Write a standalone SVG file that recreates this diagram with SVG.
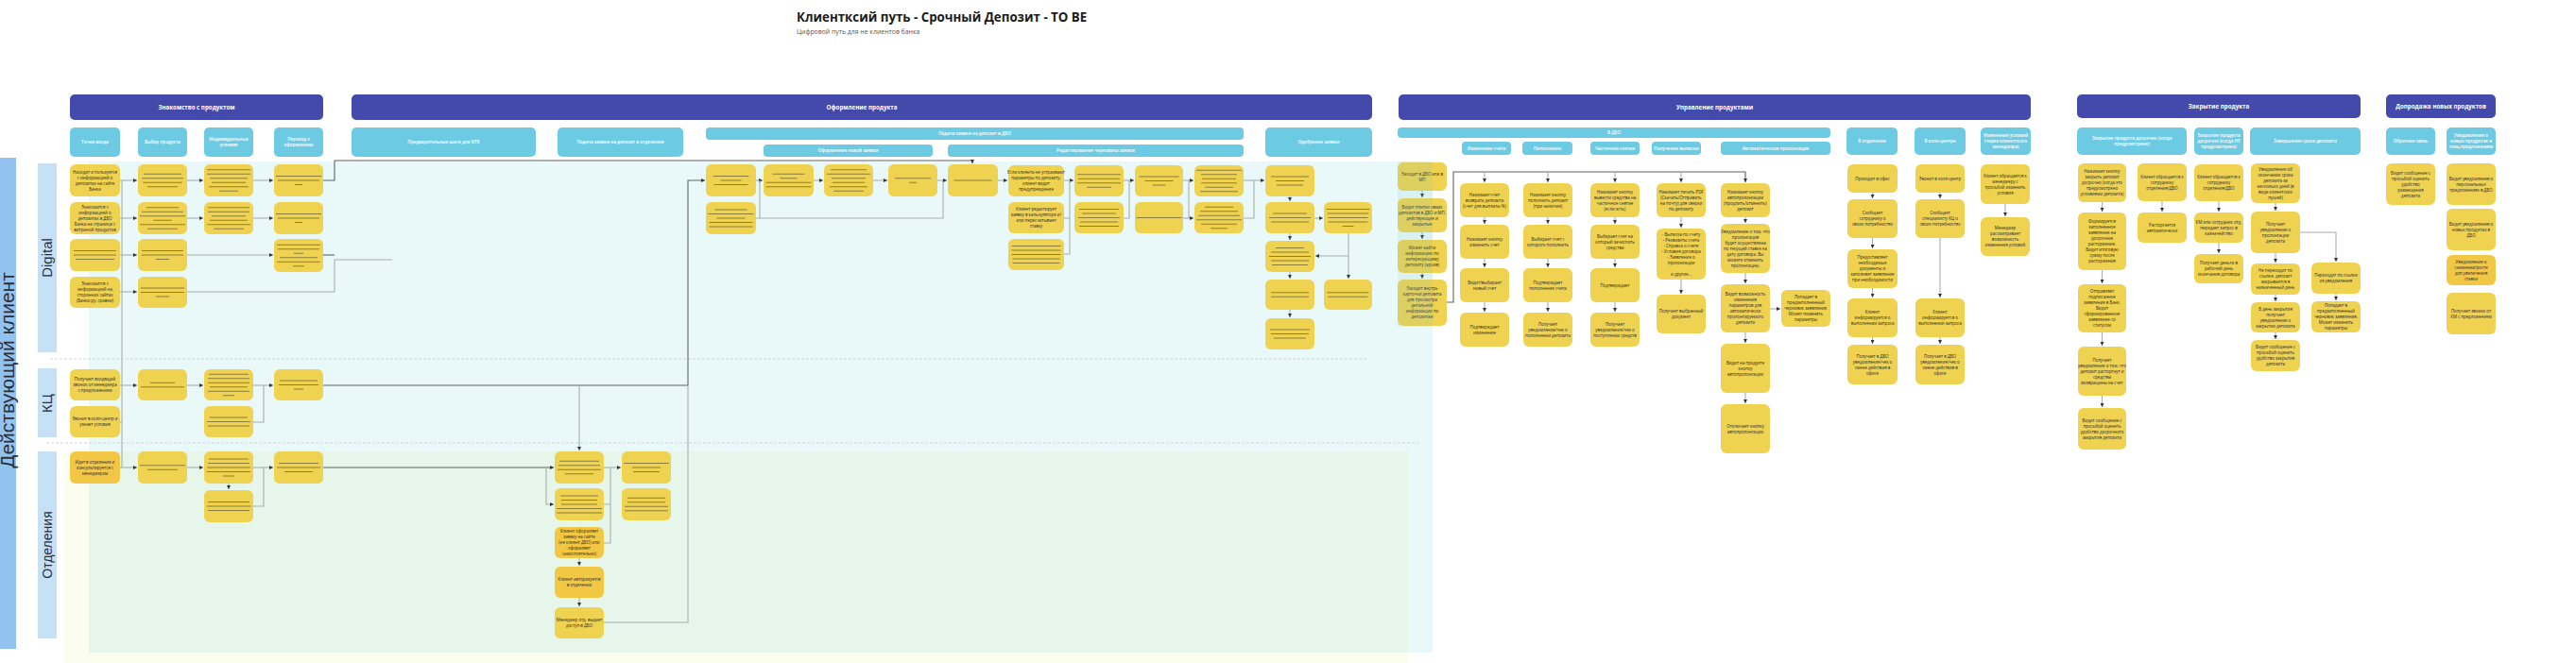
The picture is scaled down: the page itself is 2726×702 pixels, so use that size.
<svg xmlns="http://www.w3.org/2000/svg" width="2726" height="702" viewBox="0 0 2726 702">
<defs>
<style>
.n{fill:#efd24f}
.o{fill:#f2c744}
.hd{fill:#434aab}
.sh{fill:#6ccbe3}
.nt{font-family:"Open Sans","Liberation Sans",sans-serif;font-size:4.4px;fill:#2b2b2b;text-anchor:middle}
.ht{font-family:"Open Sans","Liberation Sans",sans-serif;font-size:6.2px;font-weight:700;fill:#fff;text-anchor:middle}
.st{font-family:"Open Sans","Liberation Sans",sans-serif;font-size:4.6px;font-weight:600;fill:#fff;text-anchor:middle}
.ln{font-family:"Liberation Sans",sans-serif;fill:#2a2f36;text-anchor:middle}
.ph{fill:none;stroke:#8b7d3a;stroke-width:1.1}
.dk{stroke:#5f6563}
.dl{fill:none;stroke:#cfd6d6;stroke-width:1;stroke-dasharray:3 2}
</style>
<marker id="a" viewBox="0 0 4 4" refX="4" refY="2" markerWidth="4" markerHeight="4" markerUnits="userSpaceOnUse" orient="auto"><path d="M0,0L4,2L0,4z" fill="#333"/></marker>
</defs>
<rect width="2726" height="702" fill="#fff"/>

<!-- backgrounds -->
<g id="background">
<rect x="68" y="478" width="1422" height="224" fill="#fbfdee"/>
<rect x="94" y="171" width="1422" height="520" fill="#e9f8f8"/>
<rect x="94" y="478" width="1396" height="213" fill="#e7f6ea"/>
<path class="dl" d="M53,380H1446M49,469H1503"/>
</g>

<!-- title -->
<g id="title">
<text x="843" y="23" font-family="'Open Sans','Liberation Sans',sans-serif" font-size="13.3" font-weight="700" fill="#1a1a1a">Клиентксий путь - Срочный Депозит - TO BE</text>
<text x="843" y="36" font-family="'Open Sans','Liberation Sans',sans-serif" font-size="6.9" fill="#555">Цифровой путь для не клиентов банка</text>
</g>

<!-- lanes -->
<g id="lanes">
<rect x="0" y="167" width="17" height="520" fill="#92c2f0"/>
<text class="ln" font-size="21" transform="translate(15,392) rotate(-90)">Действующий клиент</text>
<rect x="40" y="173" width="20" height="200" fill="#c6e0f6"/>
<text class="ln" font-size="15" transform="translate(55,273) rotate(-90)">Digital</text>
<rect x="40" y="390" width="20" height="73" fill="#c6e0f6"/>
<text class="ln" font-size="15" transform="translate(55,427) rotate(-90)">КЦ</text>
<rect x="40" y="478" width="20" height="198" fill="#c6e0f6"/>
<text class="ln" font-size="14" transform="translate(55,577) rotate(-90)">Отделения</text>
</g>

<!-- stage headers -->
<g id="headers">
<g id="h-znak"><rect class="hd" x="74" y="100" width="268" height="27" rx="5"/><text class="ht" x="208" y="115.7">Знакомство с продуктом</text></g>
<g id="h-oform"><rect class="hd" x="372" y="100" width="1080" height="27" rx="5"/><text class="ht" x="912" y="115.7">Оформление продукта</text></g>
<g id="h-upr"><rect class="hd" x="1480" y="100" width="669" height="27" rx="5"/><text class="ht" x="1814.5" y="115.7">Управление продуктами</text></g>
<g id="h-close"><rect class="hd" x="2198" y="100" width="300" height="25" rx="5"/><text class="ht" x="2348" y="114.7">Закрытие продукта</text></g>
<g id="h-upsell"><rect class="hd" x="2525" y="100" width="116" height="25" rx="5"/><text class="ht" x="2583" y="114.7">Допродажа новых продуктов</text></g>

<g id="s1"><rect class="sh" x="74" y="135" width="53" height="31" rx="5"/><text class="st" x="100.5" y="152.2">Точки входа</text></g>
<g id="s2"><rect class="sh" x="146" y="135" width="52" height="31" rx="5"/><text class="st" x="172" y="152.2">Выбор продукта</text></g>
<g id="s3"><rect class="sh" x="216" y="135" width="52" height="31" rx="5"/><text class="st" x="242" y="149.4">Индивидуальные<tspan x="242" dy="6">условия</tspan></text></g>
<g id="s4"><rect class="sh" x="290" y="135" width="52" height="31" rx="5"/><text class="st" x="316" y="149.4">Переход к<tspan x="316" dy="6">оформлению</tspan></text></g>
<g id="s5"><rect class="sh" x="372" y="135" width="195" height="31" rx="5"/><text class="st" x="469.5" y="152.2">Предварительные шаги для NTB</text></g>
<g id="s6"><rect class="sh" x="590" y="135" width="133" height="31" rx="5"/><text class="st" x="656.5" y="152.2">Подача заявки на депозит в отделении</text></g>
<g id="s7"><rect class="sh" x="747" y="135" width="569" height="13" rx="4"/><text class="st" x="1031.5" y="143.2">Подача заявки на депозит в ДБО</text></g>
<g id="s7a"><rect class="sh" x="808" y="153" width="179" height="13" rx="4"/><text class="st" x="897.5" y="161.2">Оформление новой заявки</text></g>
<g id="s7b"><rect class="sh" x="1003" y="153" width="313" height="13" rx="4"/><text class="st" x="1159.5" y="161.2">Редактирование черновика заявки</text></g>
<g id="s8"><rect class="sh" x="1339" y="135" width="113" height="31" rx="5"/><text class="st" x="1395.5" y="152.2">Одобрение заявки</text></g>
<g id="s9"><rect class="sh" x="1479" y="135" width="458" height="11" rx="4"/><text class="st" x="1708" y="142.2">В ДБО</text></g>
<g id="s9a"><rect class="sh" x="1547" y="150" width="52" height="14" rx="4"/><text class="st" x="1573" y="158.7">Изменение счета</text></g>
<g id="s9b"><rect class="sh" x="1611" y="150" width="53" height="14" rx="4"/><text class="st" x="1637.5" y="158.7">Пополнение</text></g>
<g id="s9c"><rect class="sh" x="1683" y="150" width="52" height="14" rx="4"/><text class="st" x="1709" y="158.7">Частичное снятие</text></g>
<g id="s9d"><rect class="sh" x="1748" y="150" width="52" height="14" rx="4"/><text class="st" x="1774" y="158.7">Получение выписки</text></g>
<g id="s9e"><rect class="sh" x="1821" y="150" width="116" height="14" rx="4"/><text class="st" x="1879" y="158.7">Автоматическая пролонгация</text></g>
<g id="s10"><rect class="sh" x="1954" y="135" width="54" height="29" rx="5"/><text class="st" x="1981" y="151.2">В отделении</text></g>
<g id="s11"><rect class="sh" x="2026" y="135" width="54" height="29" rx="5"/><text class="st" x="2053" y="151.2">В колл-центре</text></g>
<g id="s12"><rect class="sh" x="2096" y="135" width="53" height="29" rx="5"/><text class="st" x="2122.5" y="145.4">Изменение условий<tspan x="2122.5" dy="6">(через клиентского</tspan><tspan x="2122.5" dy="6">менеджера)</tspan></text></g>
<g id="s13"><rect class="sh" x="2198" y="135" width="116" height="29" rx="5"/><text class="st" x="2256" y="148.4">Закрытие продукта досрочно (когда<tspan x="2256" dy="6">предусмотрено)</tspan></text></g>
<g id="s14"><rect class="sh" x="2322" y="135" width="52" height="29" rx="5"/><text class="st" x="2348" y="145.4">Закрытие продукта<tspan x="2348" dy="6">досрочно (когда НЕ</tspan><tspan x="2348" dy="6">предусмотрено)</tspan></text></g>
<g id="s15"><rect class="sh" x="2381" y="135" width="117" height="29" rx="5"/><text class="st" x="2439.5" y="151.2">Завершение срока депозита</text></g>
<g id="s16"><rect class="sh" x="2525" y="135" width="52" height="29" rx="5"/><text class="st" x="2551" y="151.2">Обратная связь</text></g>
<g id="s17"><rect class="sh" x="2589" y="135" width="52" height="29" rx="5"/><text class="st" x="2615" y="145.4">Уведомление о<tspan x="2615" dy="6">новых продуктах и</tspan><tspan x="2615" dy="6">спец.предложениях</tspan></text></g>
</g>

<!-- connectors -->
<g id="connectors" fill="none" stroke="#a6b0ae" stroke-width="1.1">
<path d="M129,191V495"/>
<path d="M127,191H145" marker-end="url(#a)"/>
<path d="M127,231H145" marker-end="url(#a)"/>
<path d="M127,270H145" marker-end="url(#a)"/>
<path d="M127,309H145" marker-end="url(#a)"/>
<path d="M127,408H145" marker-end="url(#a)"/>
<path d="M127,447H129"/>
<path d="M127,495H145" marker-end="url(#a)"/>
<path d="M198,191H215" marker-end="url(#a)"/>
<path d="M198,231H215" marker-end="url(#a)"/>
<path d="M198,270H289" marker-end="url(#a)"/>
<path d="M268,191H289" marker-end="url(#a)"/>
<path d="M268,231H289" marker-end="url(#a)"/>
<path class="dk" d="M342,270H354"/>
<path class="dk" d="M342,191H354V170H1029V173" marker-end="url(#a)"/>
<path d="M198,309H354V275H415"/>
<path d="M198,408H215" marker-end="url(#a)"/>
<path d="M268,408H289" marker-end="url(#a)"/>
<path d="M268,447H279V408"/>
<path class="dk" d="M342,408H728V191H746" marker-end="url(#a)"/>
<path d="M613,408V477" marker-end="url(#a)"/>
<path d="M198,495H215" marker-end="url(#a)"/>
<path d="M242,512V518" marker-end="url(#a)"/>
<path d="M268,495H289" marker-end="url(#a)"/>
<path d="M268,536H279V495"/>
<path class="dk" d="M342,495H586" marker-end="url(#a)"/>
<path d="M578,495V534H586" marker-end="url(#a)"/>
<path d="M639,495H657" marker-end="url(#a)"/>
<path d="M639,534H646V495"/>
<path d="M639,575H646V534"/>
<path d="M613,591V599" marker-end="url(#a)"/>
<path d="M613,633V642" marker-end="url(#a)"/>
<path d="M639,659H728V408"/>
<path d="M799,191H807" marker-end="url(#a)"/>
<path d="M799,231H804V191"/>
<path d="M804,231H998V191"/>
<path d="M861,191H871" marker-end="url(#a)"/>
<path d="M924,191H939" marker-end="url(#a)"/>
<path d="M992,191H1002" marker-end="url(#a)"/>
<path d="M1056,191H1066" marker-end="url(#a)"/>
<path d="M1126,191H1136" marker-end="url(#a)"/>
<path d="M1126,231H1132"/>
<path d="M1126,269H1132V191"/>
<path d="M1189,191H1200" marker-end="url(#a)"/>
<path d="M1189,231H1195V191"/>
<path d="M1252,191H1263" marker-end="url(#a)"/>
<path d="M1252,231H1263" marker-end="url(#a)"/>
<path d="M1258,191V231"/>
<path d="M1316,191H1338" marker-end="url(#a)"/>
<path d="M1316,231H1327V191"/>
<path d="M1365,208V213" marker-end="url(#a)"/>
<path d="M1365,247V254" marker-end="url(#a)"/>
<path d="M1365,288V295" marker-end="url(#a)"/>
<path d="M1365,328V336" marker-end="url(#a)"/>
<path d="M1391,231H1400" marker-end="url(#a)"/>
<path d="M1427,247V295" marker-end="url(#a)"/>
<path d="M1427,271H1392" marker-end="url(#a)"/>
<path d="M1505,202V209" marker-end="url(#a)"/>
<path d="M1505,246V253" marker-end="url(#a)"/>
<path d="M1505,289V295" marker-end="url(#a)"/>
<path class="dk" d="M1531,320H1538V182H1847V193" marker-end="url(#a)"/>
<path d="M1571,182V193" marker-end="url(#a)"/>
<path d="M1638,182V193" marker-end="url(#a)"/>
<path d="M1709,182V193" marker-end="url(#a)"/>
<path d="M1779,182V193" marker-end="url(#a)"/>
<path d="M1571,230V237" marker-end="url(#a)"/>
<path d="M1571,274V283" marker-end="url(#a)"/>
<path d="M1571,320V330" marker-end="url(#a)"/>
<path d="M1638,230V237" marker-end="url(#a)"/>
<path d="M1638,274V283" marker-end="url(#a)"/>
<path d="M1638,320V330" marker-end="url(#a)"/>
<path d="M1709,230V237" marker-end="url(#a)"/>
<path d="M1709,274V283" marker-end="url(#a)"/>
<path d="M1709,320V330" marker-end="url(#a)"/>
<path d="M1779,230V241" marker-end="url(#a)"/>
<path d="M1779,296V311" marker-end="url(#a)"/>
<path d="M1847,230V236" marker-end="url(#a)"/>
<path d="M1847,289V300" marker-end="url(#a)"/>
<path d="M1847,352V363" marker-end="url(#a)"/>
<path d="M1847,416V427" marker-end="url(#a)"/>
<path d="M1873,327H1884" marker-end="url(#a)"/>
<path d="M1981.5,204V210" marker-end="url(#a)"/>
<path d="M1981.5,252V263" marker-end="url(#a)"/>
<path d="M1981.5,305V315" marker-end="url(#a)"/>
<path d="M1981.5,357V364" marker-end="url(#a)"/>
<path d="M2053,204V210" marker-end="url(#a)"/>
<path d="M2053,252V315" marker-end="url(#a)"/>
<path d="M2053,357V364" marker-end="url(#a)"/>
<path d="M2122,216V229" marker-end="url(#a)"/>
<path d="M2224.5,214V224" marker-end="url(#a)"/>
<path d="M2224.5,286V300" marker-end="url(#a)"/>
<path d="M2224.5,352V366" marker-end="url(#a)"/>
<path d="M2224.5,419V431" marker-end="url(#a)"/>
<path d="M2288,213V224" marker-end="url(#a)"/>
<path d="M2348,213V224" marker-end="url(#a)"/>
<path d="M2348,257V268" marker-end="url(#a)"/>
<path d="M2408,215V223" marker-end="url(#a)"/>
<path d="M2408,268V278" marker-end="url(#a)"/>
<path d="M2408,312V319" marker-end="url(#a)"/>
<path d="M2408,352V359" marker-end="url(#a)"/>
<path d="M2434,246H2472V277" marker-end="url(#a)"/>
<path d="M2472,311V318" marker-end="url(#a)"/>
</g>

<!-- Знакомство с продуктом: Digital -->
<g id="d1-1"><rect class="n" x="74" y="174" width="53" height="34" rx="6"/><text class="nt" x="100.5" y="183.6">Находит и пользуется<tspan x="100.5" dy="6">с информацией о</tspan><tspan x="100.5" dy="6">депозитах на сайте</tspan><tspan x="100.5" dy="6">Банка</tspan></text></g>
<g id="d1-2"><rect class="n" x="74" y="214" width="53" height="34" rx="6"/><text class="nt" x="100.5" y="220.6">Знакомится с<tspan x="100.5" dy="6">информацией о</tspan><tspan x="100.5" dy="6">депозитах в ДБО</tspan><tspan x="100.5" dy="6">Банка на странице с</tspan><tspan x="100.5" dy="6">витриной продуктов</tspan></text></g>
<g id="d1-3"><rect class="n" x="74" y="253" width="53" height="34" rx="6"/><path class="ph" d="M78,265.5h45M78,270h45M80,274.5h41"/></g>
<g id="d1-4"><rect class="n" x="74" y="293" width="53" height="33" rx="6"/><text class="nt" x="100.5" y="302.1">Знакомится с<tspan x="100.5" dy="6">информацией на</tspan><tspan x="100.5" dy="6">сторонних сайтах</tspan><tspan x="100.5" dy="6">(Банки.ру, сравни)</tspan></text></g>
<g id="d2-1"><rect class="n" x="146" y="174" width="52" height="34" rx="6"/><path class="ph" d="M152,184.25h40M150,188.75h44M151,193.25h42M156,197.75h32"/></g>
<g id="d2-2"><rect class="n" x="146" y="214" width="52" height="34" rx="6"/><path class="ph" d="M155,219.75h34M150,224.25h44M148,228.75h48M162,233.25h20M148,237.75h48M156,242.25h32"/></g>
<g id="d2-3"><rect class="n" x="146" y="253" width="52" height="34" rx="6"/><path class="ph" d="M150,265.5h44M150,270h44M165,274.5h14"/></g>
<g id="d2-4"><rect class="n" x="146" y="293" width="52" height="33" rx="6"/><path class="ph" d="M149,305h46M149,309.5h46M165,314h14"/></g>
<g id="d3-1"><rect class="n" x="216" y="174" width="52" height="34" rx="6"/><path class="ph" d="M219,179.75h46M219,184.25h46M222,188.75h40M224,193.25h36M221,197.75h42M232,202.25h20"/></g>
<g id="d3-2"><rect class="n" x="216" y="214" width="52" height="34" rx="6"/><path class="ph" d="M220,219.75h44M220,224.25h44M224,228.75h36M222,233.25h40M219,237.75h46M226,242.25h32"/></g>
<g id="d4-1"><rect class="n" x="290" y="174" width="52" height="34" rx="6"/><path class="ph" d="M292,186.5h48M294,191h44M312,195.5h8"/></g>
<g id="d4-2"><rect class="n" x="290" y="214" width="52" height="34" rx="6"/><path class="ph" d="M292,226.5h48M294,231h44M312,235.5h8"/></g>
<g id="d4-3"><rect class="n" x="290" y="253" width="52" height="35" rx="6"/><path class="ph" d="M293,259.25h46M294,263.75h44M311,268.25h10M296,272.75h40M293,277.25h46M310,281.75h12"/></g>

<!-- КЦ -->
<g id="k1-1"><rect class="n" x="74" y="391" width="53" height="33" rx="6"/><text class="nt" x="100.5" y="403.1">Получает входящий<tspan x="100.5" dy="6">звонок от менеджера</tspan><tspan x="100.5" dy="6">с предложением</tspan></text></g>
<g id="k1-2"><rect class="n" x="74" y="430" width="53" height="33" rx="6"/><text class="nt" x="100.5" y="445.1">Звонит в колл-центр и<tspan x="100.5" dy="6">узнает условия</tspan></text></g>
<g id="k2-1"><rect class="n" x="146" y="391" width="52" height="33" rx="6"/><path class="ph" d="M159,405.25h26M149,409.75h46"/></g>
<g id="k3-1"><rect class="n" x="216" y="391" width="52" height="33" rx="6"/><path class="ph" d="M221,396.25h42M220,400.75h44M220,405.25h44M222,409.75h40M220,414.25h44M236,418.75h12"/></g>
<g id="k3-2"><rect class="n" x="216" y="430" width="52" height="33" rx="6"/><path class="ph" d="M222,442h40M219,446.5h46M220,451h44"/></g>
<g id="k4-1"><rect class="n" x="290" y="391" width="52" height="33" rx="6"/><path class="ph" d="M296,403h40M295,407.5h42M311,412h10"/></g>

<!-- Отделения -->
<g id="o1-1"><rect class="o" x="74" y="478" width="53" height="34" rx="6"/><text class="nt" x="100.5" y="490.6">Идет в отделение и<tspan x="100.5" dy="6">консультируется с</tspan><tspan x="100.5" dy="6">менеджером</tspan></text></g>
<g id="o2-1"><rect class="n" x="146" y="478" width="52" height="34" rx="6"/><path class="ph" d="M148,492.75h48M156,497.25h32"/></g>
<g id="o3-1"><rect class="n" x="216" y="478" width="52" height="34" rx="6"/><path class="ph" d="M221,486h42M220,490.5h44M219,495h46M219,499.5h46M236,504h12"/></g>
<g id="o3-2"><rect class="n" x="216" y="519" width="52" height="34" rx="6"/><path class="ph" d="M220,531.5h44M219,536h46M220,540.5h44"/></g>
<g id="o4-1"><rect class="n" x="290" y="478" width="52" height="34" rx="6"/><path class="ph" d="M295,490.5h42M293,495h46M301,499.5h30"/></g>

<!-- Подача заявки в отделении -->
<g id="ot-1"><rect class="n" x="587" y="478" width="52" height="34" rx="6"/><path class="ph" d="M592,488.25h42M591,492.75h44M590,497.25h46M598,501.75h30"/></g>
<g id="ot-2"><rect class="n" x="587" y="517" width="52" height="34" rx="6"/><path class="ph" d="M593,525h40M594,529.5h38M594,534h38M589,538.5h48M589,543h48"/></g>
<g id="ot-3"><rect class="o" x="587" y="558" width="52" height="33" rx="6"/><text class="nt" x="613" y="564.1">Клиент оформляет<tspan x="613" dy="6">заявку на сайте</tspan><tspan x="613" dy="6">(не клиент ДБО) или</tspan><tspan x="613" dy="6">оформляет</tspan><tspan x="613" dy="6">самостоятельно)</tspan></text></g>
<g id="ot-4"><rect class="o" x="587" y="600" width="52" height="33" rx="6"/><text class="nt" x="613" y="615.1">Клиент авторизуется<tspan x="613" dy="6">в отделении</tspan></text></g>
<g id="ot-5"><rect class="n" x="587" y="643" width="52" height="33" rx="6"/><text class="nt" x="613" y="658.1">Менеджер отд. выдает<tspan x="613" dy="6">доступ в ДБО</tspan></text></g>
<g id="ot-6"><rect class="n" x="658" y="478" width="52" height="34" rx="6"/><path class="ph" d="M660,490.5h48M669,495h30M670,499.5h28"/></g>
<g id="ot-7"><rect class="n" x="658" y="517" width="52" height="34" rx="6"/><path class="ph" d="M664,527.25h40M664,531.75h40M661,536.25h46M661,540.75h46"/></g>

<!-- Подача заявки в ДБО -->
<g id="db-1"><rect class="n" x="747" y="174" width="53" height="34" rx="6"/><path class="ph" d="M754.5,186.5h38M762.5,191h22M755.5,195.5h36"/></g>
<g id="db-2"><rect class="n" x="747" y="214" width="53" height="34" rx="6"/><path class="ph" d="M756.5,222h34M749.5,226.5h48M758.5,231h30M750.5,235.5h46M750.5,240h46"/></g>
<g id="db-3"><rect class="n" x="808" y="174" width="53" height="34" rx="6"/><path class="ph" d="M817.5,184.25h34M825.5,188.75h18M810.5,193.25h48M810.5,197.75h48"/></g>
<g id="db-4"><rect class="n" x="872" y="174" width="52" height="34" rx="6"/><path class="ph" d="M879,179.75h38M875,184.25h46M880,188.75h36M881,193.25h34M878,197.75h40M882,202.25h32"/></g>
<g id="db-5"><rect class="n" x="940" y="174" width="52" height="34" rx="6"/><path class="ph" d="M947,188.75h38M962,193.25h8"/></g>
<g id="db-6"><rect class="n" x="1003" y="174" width="53" height="34" rx="6"/><path class="ph" d="M1009.5,191h40"/></g>
<g id="db-7"><rect class="n" x="1067" y="175" width="59" height="33" rx="6"/><text class="nt" x="1096.5" y="184.1">Если клиента не устраивают<tspan x="1096.5" dy="6">параметры по депозиту,</tspan><tspan x="1096.5" dy="6">клиент видит</tspan><tspan x="1096.5" dy="6">предупреждение</tspan></text></g>
<g id="db-8"><rect class="n" x="1067" y="214" width="59" height="33" rx="6"/><text class="nt" x="1096.5" y="223.1">Клиент редактирует<tspan x="1096.5" dy="6">заявку в калькуляторе и/</tspan><tspan x="1096.5" dy="6">или пересчитывает</tspan><tspan x="1096.5" dy="6">ставку</tspan></text></g>
<g id="db-9"><rect class="n" x="1067" y="253" width="59" height="33" rx="6"/><path class="ph" d="M1070.5,260.5h52M1070.5,265h52M1070.5,269.5h52M1071.5,274h50M1071.5,278.5h50"/></g>
<g id="db-10"><rect class="n" x="1137" y="175" width="52" height="33" rx="6"/><path class="ph" d="M1140,184.75h46M1141,189.25h44M1140,193.75h46M1150,198.25h26"/></g>
<g id="db-11"><rect class="n" x="1137" y="214" width="52" height="33" rx="6"/><path class="ph" d="M1142,221.5h42M1145,226h36M1141,230.5h44M1143,235h40M1142,239.5h42"/></g>
<g id="db-12"><rect class="n" x="1201" y="175" width="51" height="33" rx="6"/><path class="ph" d="M1205.5,187h42M1211.5,191.5h30M1219.5,196h14"/></g>
<g id="db-13"><rect class="n" x="1201" y="214" width="51" height="33" rx="6"/><path class="ph" d="M1202.5,230.5h48"/></g>
<g id="db-14"><rect class="n" x="1264" y="175" width="52" height="33" rx="6"/><path class="ph" d="M1266,180.25h48M1271,184.75h38M1272,189.25h36M1271,193.75h38M1275,198.25h30M1270,202.75h40"/></g>
<g id="db-15"><rect class="n" x="1264" y="214" width="52" height="33" rx="6"/><path class="ph" d="M1275,219.25h30M1270,223.75h40M1268,228.25h44M1266,232.75h48M1271,237.25h38M1281,241.75h18"/></g>

<!-- Одобрение заявки -->
<g id="ap-1"><rect class="n" x="1339" y="175" width="52" height="33" rx="6"/><path class="ph" d="M1345,187h40M1350,191.5h30M1351,196h28"/></g>
<g id="ap-2"><rect class="n" x="1339" y="214" width="52" height="33" rx="6"/><path class="ph" d="M1347,226h36M1343,230.5h44M1345,235h40"/></g>
<g id="ap-3"><rect class="n" x="1339" y="255" width="52" height="33" rx="6"/><path class="ph" d="M1350,262.5h30M1345,267h40M1343,271.5h44M1345,276h40M1346,280.5h38"/></g>
<g id="ap-4"><rect class="n" x="1339" y="296" width="52" height="32" rx="6"/><path class="ph" d="M1345,309.75h40M1345,314.25h40"/></g>
<g id="ap-5"><rect class="n" x="1339" y="337" width="52" height="33" rx="6"/><path class="ph" d="M1344,349h42M1345,353.5h40M1348,358h34"/></g>
<g id="ap-6"><rect class="n" x="1401" y="214" width="51" height="33" rx="6"/><path class="ph" d="M1403.5,221.5h46M1404.5,226h44M1405.5,230.5h42M1405.5,235h42M1420.5,239.5h12"/></g>
<g id="ap-7"><rect class="n" x="1401" y="296" width="51" height="32" rx="6"/><path class="ph" d="M1404.5,309.75h44M1405.5,314.25h42"/></g>

<!-- Управление продуктами -->
<g id="u-1"><rect class="n" x="1479" y="172" width="52" height="30" rx="6"/><text class="nt" x="1505" y="185.6">Заходит в ДБО или в<tspan x="1505" dy="6">МП</tspan></text></g>
<g id="u-2"><rect class="n" x="1479" y="210" width="52" height="36" rx="6"/><text class="nt" x="1505" y="220.6">Видит плитки своих<tspan x="1505" dy="6">депозитов в ДБО и МП,</tspan><tspan x="1505" dy="6">действующие и</tspan><tspan x="1505" dy="6">закрытые</tspan></text></g>
<g id="u-3"><rect class="n" x="1479" y="254" width="52" height="35" rx="6"/><text class="nt" x="1505" y="264.1">Может найти<tspan x="1505" dy="6">информацию по</tspan><tspan x="1505" dy="6">интересующему</tspan><tspan x="1505" dy="6">депозиту (архив)</tspan></text></g>
<g id="u-4"><rect class="n" x="1479" y="296" width="52" height="49" rx="6"/><text class="nt" x="1505" y="307.1">Заходит внутрь<tspan x="1505" dy="6">карточки депозита</tspan><tspan x="1505" dy="6">для просмотра</tspan><tspan x="1505" dy="6">детальной</tspan><tspan x="1505" dy="6">информации по</tspan><tspan x="1505" dy="6">депозитам</tspan></text></g>
<rect x="1479" y="171" width="37" height="175" fill="#7fc8c0" opacity="0.15"/>

<g id="k-1"><rect class="n" x="1545" y="194" width="52" height="36" rx="6"/><text class="nt" x="1571" y="207.6">Нажимает счет<tspan x="1571" dy="6">возврата депозита</tspan><tspan x="1571" dy="6">(счет для выплаты %)</tspan></text></g>
<g id="k-2"><rect class="n" x="1545" y="238" width="52" height="36" rx="6"/><text class="nt" x="1571" y="254.6">Нажимает кнопку<tspan x="1571" dy="6">изменить счет</tspan></text></g>
<g id="k-3"><rect class="n" x="1545" y="284" width="52" height="36" rx="6"/><text class="nt" x="1571" y="300.6">Видит/выбирает<tspan x="1571" dy="6">новый счет</tspan></text></g>
<g id="k-4"><rect class="n" x="1545" y="331" width="52" height="36" rx="6"/><text class="nt" x="1571" y="347.6">Подтверждает<tspan x="1571" dy="6">изменение</tspan></text></g>

<g id="l-1"><rect class="n" x="1612" y="194" width="52" height="36" rx="6"/><text class="nt" x="1638" y="207.6">Нажимает кнопку<tspan x="1638" dy="6">пополнить депозит</tspan><tspan x="1638" dy="6">(при наличии)</tspan></text></g>
<g id="l-2"><rect class="n" x="1612" y="238" width="52" height="36" rx="6"/><text class="nt" x="1638" y="254.6">Выбирает счет с<tspan x="1638" dy="6">которого пополнить</tspan></text></g>
<g id="l-3"><rect class="n" x="1612" y="284" width="52" height="36" rx="6"/><text class="nt" x="1638" y="300.6">Подтверждает<tspan x="1638" dy="6">пополнение счета</tspan></text></g>
<g id="l-4"><rect class="n" x="1612" y="331" width="52" height="36" rx="6"/><text class="nt" x="1638" y="344.6">Получает<tspan x="1638" dy="6">уведомление/чек о</tspan><tspan x="1638" dy="6">пополнении депозита</tspan></text></g>

<g id="m-1"><rect class="n" x="1683" y="194" width="52" height="36" rx="6"/><text class="nt" x="1709" y="204.6">Нажимает кнопку<tspan x="1709" dy="6">вывести средства на</tspan><tspan x="1709" dy="6">частичное снятие</tspan><tspan x="1709" dy="6">(если есть)</tspan></text></g>
<g id="m-2"><rect class="n" x="1683" y="238" width="52" height="36" rx="6"/><text class="nt" x="1709" y="251.6">Выбирает счет на<tspan x="1709" dy="6">который зачислить</tspan><tspan x="1709" dy="6">средства</tspan></text></g>
<g id="m-3"><rect class="n" x="1683" y="284" width="52" height="36" rx="6"/><text class="nt" x="1709" y="303.6">Подтверждает</text></g>
<g id="m-4"><rect class="n" x="1683" y="331" width="52" height="36" rx="6"/><text class="nt" x="1709" y="344.6">Получает<tspan x="1709" dy="6">уведомление/чек о</tspan><tspan x="1709" dy="6">поступлении средств</tspan></text></g>

<g id="v-1"><rect class="n" x="1753" y="194" width="52" height="36" rx="6"/><text class="nt" x="1779" y="204.6">Нажимает печать PDF<tspan x="1779" dy="6">(Скачать/Отправить</tspan><tspan x="1779" dy="6">на почту) для сверки</tspan><tspan x="1779" dy="6">по депозиту</tspan></text></g>
<g id="v-2"><rect class="n" x="1753" y="242" width="52" height="54" rx="6"/><text class="nt" x="1779" y="249.6">- Выписка по счету<tspan x="1779" dy="6">- Реквизиты счета</tspan><tspan x="1779" dy="6">- Справка о счете</tspan><tspan x="1779" dy="6">- Условия договора</tspan><tspan x="1779" dy="6">- Заявление о</tspan><tspan x="1779" dy="6">пролонгации</tspan><tspan x="1779" dy="12">и другие...</tspan></text></g>
<g id="v-3"><rect class="n" x="1753" y="312" width="52" height="41" rx="6"/><text class="nt" x="1779" y="331.1">Получает выбранный<tspan x="1779" dy="6">документ</tspan></text></g>

<g id="p-1"><rect class="n" x="1821" y="194" width="52" height="36" rx="6"/><text class="nt" x="1847" y="204.6">Нажимает кнопку<tspan x="1847" dy="6">автопролонгации</tspan><tspan x="1847" dy="6">(продлить/отменить)</tspan><tspan x="1847" dy="6">депозит</tspan></text></g>
<g id="p-2"><rect class="n" x="1821" y="237" width="52" height="52" rx="6"/><text class="nt" x="1847" y="246.6">Уведомление о том, что<tspan x="1847" dy="6">пролонгация</tspan><tspan x="1847" dy="6">будет осуществлена</tspan><tspan x="1847" dy="6">по текущей ставке на</tspan><tspan x="1847" dy="6">дату договора. Вы</tspan><tspan x="1847" dy="6">можете отменить</tspan><tspan x="1847" dy="6">пролонгацию.</tspan></text></g>
<g id="p-3"><rect class="n" x="1821" y="301" width="52" height="51" rx="6"/><text class="nt" x="1847" y="313.1">Видит возможность<tspan x="1847" dy="6">изменения</tspan><tspan x="1847" dy="6">параметров для</tspan><tspan x="1847" dy="6">автоматически</tspan><tspan x="1847" dy="6">пролонгируемого</tspan><tspan x="1847" dy="6">депозита</tspan></text></g>
<g id="p-4"><rect class="n" x="1821" y="364" width="52" height="52" rx="6"/><text class="nt" x="1847" y="385.6">Видит на продукте<tspan x="1847" dy="6">кнопку</tspan><tspan x="1847" dy="6">автопролонгации</tspan></text></g>
<g id="p-5"><rect class="n" x="1821" y="428" width="52" height="52" rx="6"/><text class="nt" x="1847" y="452.6">Отключает кнопку<tspan x="1847" dy="6">автопролонгации</tspan></text></g>
<g id="p-6"><rect class="n" x="1885" y="307" width="52" height="39" rx="6"/><text class="nt" x="1911" y="316.1">Попадает в<tspan x="1911" dy="6">предзаполненный</tspan><tspan x="1911" dy="6">черновик заявления.</tspan><tspan x="1911" dy="6">Может поменять</tspan><tspan x="1911" dy="6">параметры</tspan></text></g>

<g id="r-1"><rect class="n" x="1955" y="174" width="53" height="30" rx="6"/><text class="nt" x="1981.5" y="190.6">Приходит в офис</text></g>
<g id="r-2"><rect class="n" x="1955" y="211" width="53" height="41" rx="6"/><text class="nt" x="1981.5" y="227.1">Сообщает<tspan x="1981.5" dy="6">сотруднику о</tspan><tspan x="1981.5" dy="6">своих потребностях</tspan></text></g>
<g id="r-3"><rect class="n" x="1955" y="264" width="53" height="41" rx="6"/><text class="nt" x="1981.5" y="274.1">Предоставляет<tspan x="1981.5" dy="6">необходимые</tspan><tspan x="1981.5" dy="6">документы и</tspan><tspan x="1981.5" dy="6">заполняет заявление</tspan><tspan x="1981.5" dy="6">при необходимости</tspan></text></g>
<g id="r-4"><rect class="n" x="1955" y="316" width="53" height="41" rx="6"/><text class="nt" x="1981.5" y="332.1">Клиент<tspan x="1981.5" dy="6">информируется о</tspan><tspan x="1981.5" dy="6">выполнении запроса</tspan></text></g>
<g id="r-5"><rect class="n" x="1955" y="365" width="53" height="42" rx="6"/><text class="nt" x="1981.5" y="378.6">Получает в ДБО<tspan x="1981.5" dy="6">уведомление/чек о</tspan><tspan x="1981.5" dy="6">смене действия в</tspan><tspan x="1981.5" dy="6">офисе</tspan></text></g>

<g id="c-1"><rect class="n" x="2027" y="174" width="52" height="30" rx="6"/><text class="nt" x="2053" y="190.6">Звонит в колл-центр</text></g>
<g id="c-2"><rect class="n" x="2027" y="211" width="52" height="41" rx="6"/><text class="nt" x="2053" y="227.1">Сообщает<tspan x="2053" dy="6">специалисту КЦ о</tspan><tspan x="2053" dy="6">своих потребностях</tspan></text></g>
<g id="c-3"><rect class="n" x="2027" y="316" width="52" height="41" rx="6"/><text class="nt" x="2053" y="332.1">Клиент<tspan x="2053" dy="6">информируется о</tspan><tspan x="2053" dy="6">выполнении запроса</tspan></text></g>
<g id="c-4"><rect class="n" x="2027" y="365" width="52" height="42" rx="6"/><text class="nt" x="2053" y="378.6">Получает в ДБО<tspan x="2053" dy="6">уведомление/чек о</tspan><tspan x="2053" dy="6">смене действия в</tspan><tspan x="2053" dy="6">офисе</tspan></text></g>

<g id="t-1"><rect class="n" x="2096" y="174" width="52" height="42" rx="6"/><text class="nt" x="2122" y="187.6">Клиент обращается к<tspan x="2122" dy="6">менеджеру с</tspan><tspan x="2122" dy="6">просьбой изменить</tspan><tspan x="2122" dy="6">условия</tspan></text></g>
<g id="t-2"><rect class="n" x="2096" y="230" width="52" height="41" rx="6"/><text class="nt" x="2122" y="243.1">Менеджер<tspan x="2122" dy="6">рассматривает</tspan><tspan x="2122" dy="6">возможность</tspan><tspan x="2122" dy="6">изменения условий</tspan></text></g>

<!-- Закрытие продукта -->
<g id="z-1"><rect class="n" x="2199" y="173" width="51" height="41" rx="6"/><text class="nt" x="2224.5" y="183.1">Нажимает кнопку<tspan x="2224.5" dy="6">закрыть депозит</tspan><tspan x="2224.5" dy="6">досрочно (когда это</tspan><tspan x="2224.5" dy="6">предусмотрено</tspan><tspan x="2224.5" dy="6">условиями депозита)</tspan></text></g>
<g id="z-2"><rect class="n" x="2199" y="225" width="51" height="61" rx="6"/><text class="nt" x="2224.5" y="236.1">Формируется<tspan x="2224.5" dy="6">заполненное</tspan><tspan x="2224.5" dy="6">заявление на</tspan><tspan x="2224.5" dy="6">досрочное</tspan><tspan x="2224.5" dy="6">расторжение.</tspan><tspan x="2224.5" dy="6">Видит итоговую</tspan><tspan x="2224.5" dy="6">сумму после</tspan><tspan x="2224.5" dy="6">расторжения</tspan></text></g>
<g id="z-3"><rect class="n" x="2199" y="301" width="51" height="51" rx="6"/><text class="nt" x="2224.5" y="310.1">Отправляет<tspan x="2224.5" dy="6">подписанное</tspan><tspan x="2224.5" dy="6">заявление в Банк.</tspan><tspan x="2224.5" dy="6">Видит</tspan><tspan x="2224.5" dy="6">сформированное</tspan><tspan x="2224.5" dy="6">заявление со</tspan><tspan x="2224.5" dy="6">статусом</tspan></text></g>
<g id="z-4"><rect class="n" x="2199" y="367" width="51" height="52" rx="6"/><text class="nt" x="2224.5" y="382.6">Получает<tspan x="2224.5" dy="6">уведомление о том, что</tspan><tspan x="2224.5" dy="6">депозит расторгнут и</tspan><tspan x="2224.5" dy="6">средства</tspan><tspan x="2224.5" dy="6">возвращены на счет</tspan></text></g>
<g id="z-5"><rect class="n" x="2199" y="432" width="51" height="44" rx="6"/><text class="nt" x="2224.5" y="446.6">Видит сообщение с<tspan x="2224.5" dy="6">просьбой оценить</tspan><tspan x="2224.5" dy="6">удобство досрочного</tspan><tspan x="2224.5" dy="6">закрытия депозита</tspan></text></g>

<g id="zv-1"><rect class="n" x="2262" y="173" width="52" height="40" rx="6"/><text class="nt" x="2288" y="188.6">Клиент обращается к<tspan x="2288" dy="6">сотруднику</tspan><tspan x="2288" dy="6">отделения/ДБО</tspan></text></g>
<g id="zv-2"><rect class="n" x="2262" y="225" width="52" height="32" rx="6"/><text class="nt" x="2288" y="239.6">Расторгается<tspan x="2288" dy="6">автоматически</tspan></text></g>

<g id="zw-1"><rect class="n" x="2322" y="174" width="52" height="39" rx="6"/><text class="nt" x="2348" y="189.1">Клиент обращается к<tspan x="2348" dy="6">сотруднику</tspan><tspan x="2348" dy="6">отделения/ДБО</tspan></text></g>
<g id="zw-2"><rect class="n" x="2322" y="225" width="52" height="32" rx="6"/><text class="nt" x="2348" y="236.6">КМ или сотрудник отд.<tspan x="2348" dy="6">передает запрос в</tspan><tspan x="2348" dy="6">казначейство</tspan></text></g>
<g id="zw-3"><rect class="n" x="2322" y="269" width="52" height="31" rx="6"/><text class="nt" x="2348" y="280.1">Получает деньги в<tspan x="2348" dy="6">рабочий день</tspan><tspan x="2348" dy="6">окончания договора</tspan></text></g>

<g id="zx-1"><rect class="n" x="2382" y="173" width="52" height="42" rx="6"/><text class="nt" x="2408" y="180.6">Уведомление об<tspan x="2408" dy="6">окончании срока</tspan><tspan x="2408" dy="6">депозита за</tspan><tspan x="2408" dy="6">несколько дней (в</tspan><tspan x="2408" dy="6">виде клиентских</tspan><tspan x="2408" dy="6">пушей)</tspan></text></g>
<g id="zx-2"><rect class="n" x="2382" y="224" width="52" height="44" rx="6"/><text class="nt" x="2408" y="238.6">Получает<tspan x="2408" dy="6">уведомление о</tspan><tspan x="2408" dy="6">пролонгации</tspan><tspan x="2408" dy="6">депозита</tspan></text></g>
<g id="zx-3"><rect class="n" x="2382" y="279" width="52" height="33" rx="6"/><text class="nt" x="2408" y="288.1">Не переходит по<tspan x="2408" dy="6">ссылке, депозит</tspan><tspan x="2408" dy="6">закрывается в</tspan><tspan x="2408" dy="6">назначенный день</tspan></text></g>
<g id="zx-4"><rect class="n" x="2382" y="320" width="52" height="32" rx="6"/><text class="nt" x="2408" y="328.6">В день закрытия<tspan x="2408" dy="6">получает</tspan><tspan x="2408" dy="6">уведомление о</tspan><tspan x="2408" dy="6">закрытии депозита</tspan></text></g>
<g id="zx-5"><rect class="n" x="2382" y="360" width="52" height="33" rx="6"/><text class="nt" x="2408" y="369.1">Видит сообщение с<tspan x="2408" dy="6">просьбой оценить</tspan><tspan x="2408" dy="6">удобство закрытия</tspan><tspan x="2408" dy="6">депозита</tspan></text></g>
<g id="zy-1"><rect class="n" x="2446" y="278" width="52" height="33" rx="6"/><text class="nt" x="2472" y="293.1">Переходит по ссылке<tspan x="2472" dy="6">из уведомления</tspan></text></g>
<g id="zy-2"><rect class="n" x="2446" y="319" width="52" height="33" rx="6"/><text class="nt" x="2472" y="325.1">Попадает в<tspan x="2472" dy="6">предзаполненный</tspan><tspan x="2472" dy="6">черновик заявления.</tspan><tspan x="2472" dy="6">Может изменить</tspan><tspan x="2472" dy="6">параметры</tspan></text></g>

<!-- Допродажа -->
<g id="f-1"><rect class="n" x="2525" y="173" width="52" height="44" rx="6"/><text class="nt" x="2551" y="184.6">Видит сообщение с<tspan x="2551" dy="6">просьбой оценить</tspan><tspan x="2551" dy="6">удобство</tspan><tspan x="2551" dy="6">размещения</tspan><tspan x="2551" dy="6">депозита</tspan></text></g>
<g id="nw-1"><rect class="n" x="2589" y="173" width="52" height="44" rx="6"/><text class="nt" x="2615" y="190.6">Видит уведомления о<tspan x="2615" dy="6">персональных</tspan><tspan x="2615" dy="6">предложениях в ДБО</tspan></text></g>
<g id="nw-2"><rect class="n" x="2589" y="221" width="52" height="44" rx="6"/><text class="nt" x="2615" y="238.6">Видит уведомления о<tspan x="2615" dy="6">новых продуктах в</tspan><tspan x="2615" dy="6">ДБО</tspan></text></g>
<g id="nw-3"><rect class="o" x="2589" y="270" width="52" height="32" rx="6"/><text class="nt" x="2615" y="278.6">Уведомление о<tspan x="2615" dy="6">снижении/росте</tspan><tspan x="2615" dy="6">доп.увеличения</tspan><tspan x="2615" dy="6">ставки</tspan></text></g>
<g id="nw-4"><rect class="n" x="2589" y="310" width="52" height="44" rx="6"/><text class="nt" x="2615" y="330.6">Получает звонок от<tspan x="2615" dy="6">КМ с предложением</tspan></text></g>
</svg>
